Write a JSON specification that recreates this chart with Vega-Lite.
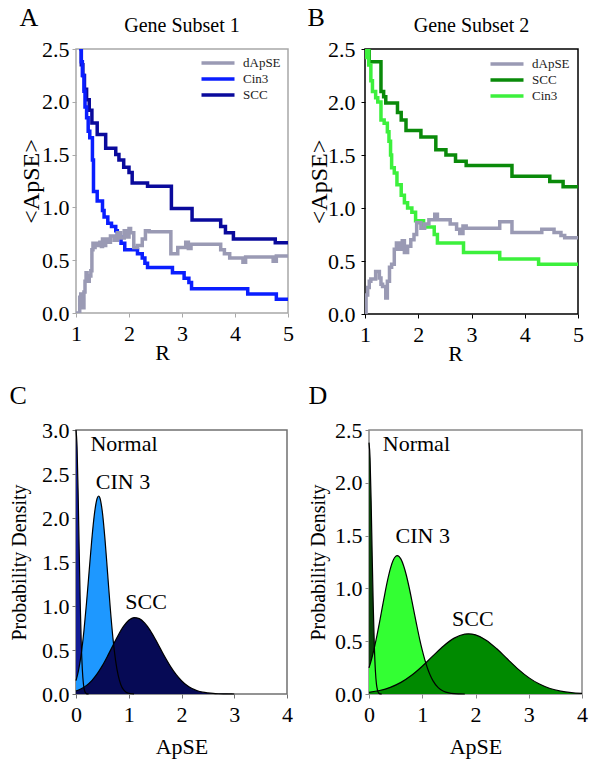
{
  "$schema": "https://vega.github.io/schema/vega-lite/v6.json",
  "background": "white",
  "padding": {"left": 8, "top": 4, "right": 4, "bottom": 4},
  "config": {
    "font": "Liberation Serif",
    "axis": {"grid": false, "labelFont": "Liberation Serif", "titleFont": "Liberation Serif", "labelColor": "#000", "titleColor": "#000", "titleFontWeight": "normal", "labelFontSize": 22, "tickSize": 4, "labelPadding": 3, "domain": false, "labelFlush": false},
    "title": {"font": "Liberation Serif", "fontWeight": "normal", "fontSize": 26, "anchor": "start", "frame": "bounds", "color": "#000"},
    "legend": {"labelFont": "Liberation Serif", "labelFontSize": 13, "labelColor": "#222"},
    "text": {"font": "Liberation Serif", "fontSize": 20, "color": "#000"}
  },
  "datasets": {
    "A": [
      {"s": "SCC", "R": 1.08, "v": 2.5}, {"s": "SCC", "R": 1.1, "v": 2.35}, {"s": "SCC", "R": 1.13, "v": 2.25}, {"s": "SCC", "R": 1.16, "v": 2.12}, {"s": "SCC", "R": 1.2, "v": 2.02}, {"s": "SCC", "R": 1.25, "v": 1.92}, {"s": "SCC", "R": 1.3, "v": 1.8}, {"s": "SCC", "R": 1.4, "v": 1.69}, {"s": "SCC", "R": 1.56, "v": 1.56}, {"s": "SCC", "R": 1.75, "v": 1.5}, {"s": "SCC", "R": 1.81, "v": 1.45}, {"s": "SCC", "R": 1.9, "v": 1.38}, {"s": "SCC", "R": 2.0, "v": 1.33}, {"s": "SCC", "R": 2.06, "v": 1.23}, {"s": "SCC", "R": 2.35, "v": 1.2}, {"s": "SCC", "R": 2.8, "v": 0.99}, {"s": "SCC", "R": 3.19, "v": 0.88}, {"s": "SCC", "R": 3.73, "v": 0.82}, {"s": "SCC", "R": 3.82, "v": 0.76}, {"s": "SCC", "R": 3.97, "v": 0.7}, {"s": "SCC", "R": 4.76, "v": 0.665}, {"s": "SCC", "R": 5.0, "v": 0.665},
      {"s": "Cin3", "R": 1.06, "v": 2.5}, {"s": "Cin3", "R": 1.1, "v": 2.38}, {"s": "Cin3", "R": 1.12, "v": 2.25}, {"s": "Cin3", "R": 1.15, "v": 2.1}, {"s": "Cin3", "R": 1.17, "v": 1.95}, {"s": "Cin3", "R": 1.2, "v": 1.85}, {"s": "Cin3", "R": 1.23, "v": 1.72}, {"s": "Cin3", "R": 1.26, "v": 1.66}, {"s": "Cin3", "R": 1.31, "v": 1.45}, {"s": "Cin3", "R": 1.33, "v": 1.15}, {"s": "Cin3", "R": 1.4, "v": 1.06}, {"s": "Cin3", "R": 1.5, "v": 0.97}, {"s": "Cin3", "R": 1.53, "v": 0.91}, {"s": "Cin3", "R": 1.6, "v": 0.85}, {"s": "Cin3", "R": 1.67, "v": 0.82}, {"s": "Cin3", "R": 1.75, "v": 0.78}, {"s": "Cin3", "R": 1.78, "v": 0.72}, {"s": "Cin3", "R": 1.85, "v": 0.66}, {"s": "Cin3", "R": 1.92, "v": 0.6}, {"s": "Cin3", "R": 2.16, "v": 0.56}, {"s": "Cin3", "R": 2.25, "v": 0.52}, {"s": "Cin3", "R": 2.3, "v": 0.47}, {"s": "Cin3", "R": 2.35, "v": 0.43}, {"s": "Cin3", "R": 2.82, "v": 0.38}, {"s": "Cin3", "R": 3.04, "v": 0.33}, {"s": "Cin3", "R": 3.13, "v": 0.29}, {"s": "Cin3", "R": 3.18, "v": 0.23}, {"s": "Cin3", "R": 4.24, "v": 0.18}, {"s": "Cin3", "R": 4.78, "v": 0.13}, {"s": "Cin3", "R": 5.0, "v": 0.13},
      {"s": "dApSE", "R": 1.0, "v": 0}, {"s": "dApSE", "R": 1.06, "v": 0}, {"s": "dApSE", "R": 1.07, "v": 0.15}, {"s": "dApSE", "R": 1.09, "v": 0.18}, {"s": "dApSE", "R": 1.1, "v": 0.08}, {"s": "dApSE", "R": 1.12, "v": 0.17}, {"s": "dApSE", "R": 1.13, "v": 0.05}, {"s": "dApSE", "R": 1.15, "v": 0.2}, {"s": "dApSE", "R": 1.17, "v": 0.3}, {"s": "dApSE", "R": 1.19, "v": 0.38}, {"s": "dApSE", "R": 1.21, "v": 0.32}, {"s": "dApSE", "R": 1.23, "v": 0.3}, {"s": "dApSE", "R": 1.25, "v": 0.35}, {"s": "dApSE", "R": 1.28, "v": 0.4}, {"s": "dApSE", "R": 1.3, "v": 0.6}, {"s": "dApSE", "R": 1.32, "v": 0.66}, {"s": "dApSE", "R": 1.34, "v": 0.62}, {"s": "dApSE", "R": 1.36, "v": 0.66}, {"s": "dApSE", "R": 1.4, "v": 0.64}, {"s": "dApSE", "R": 1.45, "v": 0.67}, {"s": "dApSE", "R": 1.48, "v": 0.63}, {"s": "dApSE", "R": 1.5, "v": 0.7}, {"s": "dApSE", "R": 1.53, "v": 0.64}, {"s": "dApSE", "R": 1.56, "v": 0.7}, {"s": "dApSE", "R": 1.62, "v": 0.67}, {"s": "dApSE", "R": 1.65, "v": 0.73}, {"s": "dApSE", "R": 1.72, "v": 0.69}, {"s": "dApSE", "R": 1.78, "v": 0.76}, {"s": "dApSE", "R": 1.84, "v": 0.71}, {"s": "dApSE", "R": 1.91, "v": 0.78}, {"s": "dApSE", "R": 1.97, "v": 0.72}, {"s": "dApSE", "R": 2.0, "v": 0.8}, {"s": "dApSE", "R": 2.03, "v": 0.76}, {"s": "dApSE", "R": 2.09, "v": 0.62}, {"s": "dApSE", "R": 2.16, "v": 0.64}, {"s": "dApSE", "R": 2.25, "v": 0.7}, {"s": "dApSE", "R": 2.31, "v": 0.78}, {"s": "dApSE", "R": 2.38, "v": 0.77}, {"s": "dApSE", "R": 2.79, "v": 0.56}, {"s": "dApSE", "R": 2.92, "v": 0.62}, {"s": "dApSE", "R": 3.07, "v": 0.67}, {"s": "dApSE", "R": 3.12, "v": 0.61}, {"s": "dApSE", "R": 3.17, "v": 0.65}, {"s": "dApSE", "R": 3.73, "v": 0.6}, {"s": "dApSE", "R": 3.8, "v": 0.56}, {"s": "dApSE", "R": 3.9, "v": 0.52}, {"s": "dApSE", "R": 4.15, "v": 0.48}, {"s": "dApSE", "R": 4.2, "v": 0.53}, {"s": "dApSE", "R": 4.72, "v": 0.49}, {"s": "dApSE", "R": 4.78, "v": 0.54}, {"s": "dApSE", "R": 5.0, "v": 0.54}
    ],
    "B": [
      {"s": "SCC", "R": 1.0, "v": 2.45}, {"s": "SCC", "R": 1.04, "v": 2.5}, {"s": "SCC", "R": 1.08, "v": 2.38}, {"s": "SCC", "R": 1.3, "v": 2.1}, {"s": "SCC", "R": 1.35, "v": 2.05}, {"s": "SCC", "R": 1.39, "v": 1.99}, {"s": "SCC", "R": 1.61, "v": 1.9}, {"s": "SCC", "R": 1.68, "v": 1.83}, {"s": "SCC", "R": 1.77, "v": 1.73}, {"s": "SCC", "R": 2.05, "v": 1.67}, {"s": "SCC", "R": 2.33, "v": 1.55}, {"s": "SCC", "R": 2.52, "v": 1.5}, {"s": "SCC", "R": 2.7, "v": 1.44}, {"s": "SCC", "R": 2.9, "v": 1.4}, {"s": "SCC", "R": 3.76, "v": 1.3}, {"s": "SCC", "R": 4.47, "v": 1.25}, {"s": "SCC", "R": 4.72, "v": 1.2}, {"s": "SCC", "R": 5.0, "v": 1.2},
      {"s": "Cin3", "R": 1.0, "v": 2.42}, {"s": "Cin3", "R": 1.02, "v": 2.5}, {"s": "Cin3", "R": 1.07, "v": 2.35}, {"s": "Cin3", "R": 1.11, "v": 2.2}, {"s": "Cin3", "R": 1.14, "v": 2.1}, {"s": "Cin3", "R": 1.2, "v": 2.04}, {"s": "Cin3", "R": 1.24, "v": 2.0}, {"s": "Cin3", "R": 1.3, "v": 1.83}, {"s": "Cin3", "R": 1.36, "v": 1.8}, {"s": "Cin3", "R": 1.42, "v": 1.72}, {"s": "Cin3", "R": 1.45, "v": 1.63}, {"s": "Cin3", "R": 1.48, "v": 1.5}, {"s": "Cin3", "R": 1.5, "v": 1.38}, {"s": "Cin3", "R": 1.55, "v": 1.33}, {"s": "Cin3", "R": 1.6, "v": 1.22}, {"s": "Cin3", "R": 1.68, "v": 1.12}, {"s": "Cin3", "R": 1.74, "v": 1.05}, {"s": "Cin3", "R": 1.8, "v": 1.0}, {"s": "Cin3", "R": 1.88, "v": 0.96}, {"s": "Cin3", "R": 1.95, "v": 0.88}, {"s": "Cin3", "R": 2.1, "v": 0.82}, {"s": "Cin3", "R": 2.3, "v": 0.75}, {"s": "Cin3", "R": 2.36, "v": 0.67}, {"s": "Cin3", "R": 2.85, "v": 0.58}, {"s": "Cin3", "R": 3.53, "v": 0.52}, {"s": "Cin3", "R": 4.26, "v": 0.47}, {"s": "Cin3", "R": 5.0, "v": 0.47},
      {"s": "dApSE", "R": 1.0, "v": 0}, {"s": "dApSE", "R": 1.02, "v": 0.18}, {"s": "dApSE", "R": 1.05, "v": 0.25}, {"s": "dApSE", "R": 1.08, "v": 0.31}, {"s": "dApSE", "R": 1.11, "v": 0.33}, {"s": "dApSE", "R": 1.2, "v": 0.4}, {"s": "dApSE", "R": 1.27, "v": 0.34}, {"s": "dApSE", "R": 1.3, "v": 0.28}, {"s": "dApSE", "R": 1.33, "v": 0.26}, {"s": "dApSE", "R": 1.39, "v": 0.15}, {"s": "dApSE", "R": 1.42, "v": 0.31}, {"s": "dApSE", "R": 1.46, "v": 0.44}, {"s": "dApSE", "R": 1.5, "v": 0.47}, {"s": "dApSE", "R": 1.55, "v": 0.61}, {"s": "dApSE", "R": 1.59, "v": 0.67}, {"s": "dApSE", "R": 1.65, "v": 0.61}, {"s": "dApSE", "R": 1.7, "v": 0.69}, {"s": "dApSE", "R": 1.74, "v": 0.58}, {"s": "dApSE", "R": 1.8, "v": 0.64}, {"s": "dApSE", "R": 1.86, "v": 0.7}, {"s": "dApSE", "R": 1.92, "v": 0.75}, {"s": "dApSE", "R": 1.97, "v": 0.86}, {"s": "dApSE", "R": 2.05, "v": 0.81}, {"s": "dApSE", "R": 2.12, "v": 0.85}, {"s": "dApSE", "R": 2.2, "v": 0.89}, {"s": "dApSE", "R": 2.31, "v": 0.94}, {"s": "dApSE", "R": 2.36, "v": 0.89}, {"s": "dApSE", "R": 2.6, "v": 0.85}, {"s": "dApSE", "R": 2.72, "v": 0.8}, {"s": "dApSE", "R": 2.78, "v": 0.76}, {"s": "dApSE", "R": 2.84, "v": 0.83}, {"s": "dApSE", "R": 2.9, "v": 0.81}, {"s": "dApSE", "R": 3.53, "v": 0.87}, {"s": "dApSE", "R": 3.76, "v": 0.77}, {"s": "dApSE", "R": 4.32, "v": 0.8}, {"s": "dApSE", "R": 4.55, "v": 0.77}, {"s": "dApSE", "R": 4.68, "v": 0.74}, {"s": "dApSE", "R": 4.75, "v": 0.72}, {"s": "dApSE", "R": 5.0, "v": 0.72}
    ],
    "C": [
      {"g": "Normal", "x": 0, "y": 3.0}, {"g": "Normal", "x": 0.02, "y": 2.81}, {"g": "Normal", "x": 0.04, "y": 2.3}, {"g": "Normal", "x": 0.06, "y": 1.65}, {"g": "Normal", "x": 0.08, "y": 1.04}, {"g": "Normal", "x": 0.1, "y": 0.57}, {"g": "Normal", "x": 0.12, "y": 0.28}, {"g": "Normal", "x": 0.14, "y": 0.12}, {"g": "Normal", "x": 0.16, "y": 0.044}, {"g": "Normal", "x": 0.18, "y": 0.014}, {"g": "Normal", "x": 0.2, "y": 0.004}, {"g": "Normal", "x": 0.22, "y": 0.001}, {"g": "Normal", "x": 0.24, "y": 0},
      {"g": "CIN 3", "x": 0, "y": 0.151}, {"g": "CIN 3", "x": 0.05, "y": 0.273}, {"g": "CIN 3", "x": 0.1, "y": 0.458}, {"g": "CIN 3", "x": 0.15, "y": 0.716}, {"g": "CIN 3", "x": 0.2, "y": 1.039}, {"g": "CIN 3", "x": 0.25, "y": 1.402}, {"g": "CIN 3", "x": 0.3, "y": 1.758}, {"g": "CIN 3", "x": 0.35, "y": 2.049}, {"g": "CIN 3", "x": 0.4, "y": 2.221}, {"g": "CIN 3", "x": 0.43, "y": 2.25}, {"g": "CIN 3", "x": 0.45, "y": 2.234}, {"g": "CIN 3", "x": 0.5, "y": 2.067}, {"g": "CIN 3", "x": 0.55, "y": 1.754}, {"g": "CIN 3", "x": 0.6, "y": 1.365}, {"g": "CIN 3", "x": 0.65, "y": 0.974}, {"g": "CIN 3", "x": 0.7, "y": 0.637}, {"g": "CIN 3", "x": 0.75, "y": 0.383}, {"g": "CIN 3", "x": 0.8, "y": 0.211}, {"g": "CIN 3", "x": 0.85, "y": 0.106}, {"g": "CIN 3", "x": 0.9, "y": 0.049}, {"g": "CIN 3", "x": 0.95, "y": 0.021}, {"g": "CIN 3", "x": 1.0, "y": 0.008}, {"g": "CIN 3", "x": 1.05, "y": 0.003}, {"g": "CIN 3", "x": 1.1, "y": 0.001},
      {"g": "SCC", "x": 0, "y": 0.034}, {"g": "SCC", "x": 0.1, "y": 0.059}, {"g": "SCC", "x": 0.2, "y": 0.098}, {"g": "SCC", "x": 0.3, "y": 0.153}, {"g": "SCC", "x": 0.4, "y": 0.228}, {"g": "SCC", "x": 0.5, "y": 0.322}, {"g": "SCC", "x": 0.6, "y": 0.433}, {"g": "SCC", "x": 0.7, "y": 0.552}, {"g": "SCC", "x": 0.8, "y": 0.668}, {"g": "SCC", "x": 0.9, "y": 0.768}, {"g": "SCC", "x": 1.0, "y": 0.838}, {"g": "SCC", "x": 1.1, "y": 0.869}, {"g": "SCC", "x": 1.2, "y": 0.857}, {"g": "SCC", "x": 1.3, "y": 0.808}, {"g": "SCC", "x": 1.4, "y": 0.729}, {"g": "SCC", "x": 1.5, "y": 0.627}, {"g": "SCC", "x": 1.6, "y": 0.516}, {"g": "SCC", "x": 1.7, "y": 0.406}, {"g": "SCC", "x": 1.8, "y": 0.305}, {"g": "SCC", "x": 1.9, "y": 0.219}, {"g": "SCC", "x": 2.0, "y": 0.151}, {"g": "SCC", "x": 2.1, "y": 0.099}, {"g": "SCC", "x": 2.2, "y": 0.062}, {"g": "SCC", "x": 2.3, "y": 0.037}, {"g": "SCC", "x": 2.4, "y": 0.021}, {"g": "SCC", "x": 2.5, "y": 0.012}, {"g": "SCC", "x": 2.6, "y": 0.006}, {"g": "SCC", "x": 2.7, "y": 0.003}, {"g": "SCC", "x": 2.8, "y": 0.0015}, {"g": "SCC", "x": 2.9, "y": 0.0007}, {"g": "SCC", "x": 3.0, "y": 0}
    ],
    "D": [
      {"g": "Normal", "x": 0, "y": 2.38}, {"g": "Normal", "x": 0.02, "y": 2.23}, {"g": "Normal", "x": 0.04, "y": 1.83}, {"g": "Normal", "x": 0.06, "y": 1.31}, {"g": "Normal", "x": 0.08, "y": 0.83}, {"g": "Normal", "x": 0.1, "y": 0.46}, {"g": "Normal", "x": 0.12, "y": 0.22}, {"g": "Normal", "x": 0.14, "y": 0.093}, {"g": "Normal", "x": 0.16, "y": 0.035}, {"g": "Normal", "x": 0.18, "y": 0.011}, {"g": "Normal", "x": 0.2, "y": 0.003}, {"g": "Normal", "x": 0.22, "y": 0.001}, {"g": "Normal", "x": 0.24, "y": 0},
      {"g": "CIN 3", "x": 0, "y": 0.247}, {"g": "CIN 3", "x": 0.05, "y": 0.333}, {"g": "CIN 3", "x": 0.1, "y": 0.437}, {"g": "CIN 3", "x": 0.15, "y": 0.555}, {"g": "CIN 3", "x": 0.2, "y": 0.686}, {"g": "CIN 3", "x": 0.25, "y": 0.822}, {"g": "CIN 3", "x": 0.3, "y": 0.956}, {"g": "CIN 3", "x": 0.35, "y": 1.08}, {"g": "CIN 3", "x": 0.4, "y": 1.185}, {"g": "CIN 3", "x": 0.45, "y": 1.261}, {"g": "CIN 3", "x": 0.5, "y": 1.303}, {"g": "CIN 3", "x": 0.53, "y": 1.31}, {"g": "CIN 3", "x": 0.6, "y": 1.277}, {"g": "CIN 3", "x": 0.65, "y": 1.215}, {"g": "CIN 3", "x": 0.7, "y": 1.127}, {"g": "CIN 3", "x": 0.75, "y": 1.018}, {"g": "CIN 3", "x": 0.8, "y": 0.897}, {"g": "CIN 3", "x": 0.85, "y": 0.769}, {"g": "CIN 3", "x": 0.9, "y": 0.643}, {"g": "CIN 3", "x": 0.95, "y": 0.523}, {"g": "CIN 3", "x": 1.0, "y": 0.415}, {"g": "CIN 3", "x": 1.05, "y": 0.321}, {"g": "CIN 3", "x": 1.1, "y": 0.242}, {"g": "CIN 3", "x": 1.15, "y": 0.177}, {"g": "CIN 3", "x": 1.2, "y": 0.127}, {"g": "CIN 3", "x": 1.3, "y": 0.06}, {"g": "CIN 3", "x": 1.4, "y": 0.026}, {"g": "CIN 3", "x": 1.5, "y": 0.01}, {"g": "CIN 3", "x": 1.6, "y": 0.003}, {"g": "CIN 3", "x": 1.7, "y": 0.001}, {"g": "CIN 3", "x": 1.8, "y": 0},
      {"g": "SCC", "x": 0, "y": 0.016}, {"g": "SCC", "x": 0.2, "y": 0.033}, {"g": "SCC", "x": 0.4, "y": 0.063}, {"g": "SCC", "x": 0.6, "y": 0.11}, {"g": "SCC", "x": 0.8, "y": 0.177}, {"g": "SCC", "x": 1.0, "y": 0.263}, {"g": "SCC", "x": 1.2, "y": 0.361}, {"g": "SCC", "x": 1.4, "y": 0.455}, {"g": "SCC", "x": 1.6, "y": 0.529}, {"g": "SCC", "x": 1.8, "y": 0.567}, {"g": "SCC", "x": 1.87, "y": 0.57}, {"g": "SCC", "x": 2.0, "y": 0.56}, {"g": "SCC", "x": 2.2, "y": 0.51}, {"g": "SCC", "x": 2.4, "y": 0.428}, {"g": "SCC", "x": 2.6, "y": 0.331}, {"g": "SCC", "x": 2.8, "y": 0.236}, {"g": "SCC", "x": 3.0, "y": 0.155}, {"g": "SCC", "x": 3.2, "y": 0.094}, {"g": "SCC", "x": 3.4, "y": 0.052}, {"g": "SCC", "x": 3.6, "y": 0.027}, {"g": "SCC", "x": 3.8, "y": 0.013}, {"g": "SCC", "x": 4.0, "y": 0.0056}
    ],
    "labC": [{"t": "Normal", "x": 0.91, "y": 2.84}, {"t": "CIN 3", "x": 0.89, "y": 2.41}, {"t": "SCC", "x": 1.33, "y": 1.05}],
    "labD": [{"t": "Normal", "x": 0.89, "y": 2.37}, {"t": "CIN 3", "x": 1.01, "y": 1.5}, {"t": "SCC", "x": 1.95, "y": 0.71}],
    "tA": [{"t": "Gene Subset 1"}],
    "tB": [{"t": "Gene Subset 2"}]
  },
  "spacing": 17,
  "align": "none",
  "center": false,
  "resolve": {"scale": {"color": "independent"}, "legend": {"color": "independent"}},
  "vconcat": [
    {
      "spacing": 11,
      "resolve": {"scale": {"color": "independent"}, "legend": {"color": "independent"}},
      "hconcat": [
        {
          "width": 212, "height": 264,
          "view": {"stroke": "#a8a8a8", "strokeWidth": 1.5},
          "title": {"text": "A", "offset": -15},
          "layer": [
            {
              "data": {"name": "A"},
              "mark": {"type": "line", "interpolate": "step-after", "strokeWidth": 3.5, "clip": true},
              "encoding": {
                "x": {"field": "R", "type": "quantitative", "scale": {"domain": [1, 5], "nice": false, "zero": false}, "axis": {"values": [1, 2, 3, 4, 5], "format": "d", "title": "R", "titleX": 86, "labelFont": "Liberation Serif", "titleFont": "Liberation Serif", "titleFontSize": 22, "titlePadding": -2, "tickColor": "#a8a8a8", "labelPadding": 6}},
                "y": {"field": "v", "type": "quantitative", "scale": {"domain": [0, 2.5], "nice": false}, "axis": {"values": [0, 0.5, 1, 1.5, 2, 2.5], "format": ".1f", "title": "<ApSE>", "labelFont": "Liberation Serif", "titleFont": "Liberation Serif", "titleFontSize": 24, "titlePadding": -2, "tickColor": "#a8a8a8"}},
                "color": {"field": "s", "type": "nominal", "scale": {"domain": ["dApSE", "Cin3", "SCC"], "range": ["#9a9ab4", "#0a1eff", "#0a0a9c"]}, "legend": {"orient": "top-right", "title": null, "symbolType": "M-3.3,0H3.3", "symbolStrokeWidth": 3.5, "symbolSize": 100, "rowPadding": 2, "offset": 7, "padding": 0, "labelOffset": 18, "labelFont": "Liberation Serif", "labelFontSize": 13}}
              }
            },
            {
              "data": {"name": "tA"},
              "mark": {"type": "text", "dy": -23, "fontSize": 20, "font": "Liberation Serif"},
              "encoding": {"x": {"datum": 3}, "y": {"datum": 2.5}, "text": {"field": "t"}}
            }
          ]
        },
        {
          "width": 213, "height": 265,
          "view": {"stroke": "#000", "strokeWidth": 1.5},
          "title": {"text": "B", "offset": -15},
          "layer": [
            {
              "data": {"name": "B"},
              "mark": {"type": "line", "interpolate": "step-after", "strokeWidth": 3.5, "clip": true},
              "encoding": {
                "x": {"field": "R", "type": "quantitative", "scale": {"domain": [1, 5], "nice": false, "zero": false}, "axis": {"values": [1, 2, 3, 4, 5], "format": "d", "title": "R", "titleX": 90, "labelFont": "Liberation Serif", "titleFont": "Liberation Serif", "titleFontSize": 22, "titlePadding": -2, "tickColor": "#000", "labelPadding": 6}},
                "y": {"field": "v", "type": "quantitative", "scale": {"domain": [0, 2.5], "nice": false}, "axis": {"values": [0, 0.5, 1, 1.5, 2, 2.5], "format": ".1f", "title": "<ApSE>", "labelFont": "Liberation Serif", "titleFont": "Liberation Serif", "titleFontSize": 24, "titlePadding": -4, "tickColor": "#000", "labelPadding": 6}},
                "color": {"field": "s", "type": "nominal", "scale": {"domain": ["dApSE", "SCC", "Cin3"], "range": ["#9a9ab4", "#0a8a0a", "#3cf03c"]}, "legend": {"orient": "top-right", "title": null, "symbolType": "M-3.3,0H3.3", "symbolStrokeWidth": 3.5, "symbolSize": 100, "rowPadding": 2, "offset": 8, "padding": 0, "labelOffset": 18, "labelFont": "Liberation Serif", "labelFontSize": 13}}
              }
            },
            {
              "data": {"name": "tB"},
              "mark": {"type": "text", "dy": -23, "fontSize": 20, "font": "Liberation Serif"},
              "encoding": {"x": {"datum": 3}, "y": {"datum": 2.5}, "text": {"field": "t"}}
            }
          ]
        }
      ]
    },
    {
      "spacing": 13,
      "hconcat": [
        {
          "width": 211, "height": 264,
          "view": {"stroke": "#707070", "strokeWidth": 1.5},
          "title": {"text": "C", "offset": 10},
          "data": {"name": "C"},
          "encoding": {
            "x": {"field": "x", "type": "quantitative", "scale": {"domain": [0, 4], "nice": false}, "axis": {"values": [0, 1, 2, 3, 4], "format": "d", "title": "ApSE", "labelFont": "Liberation Serif", "titleFont": "Liberation Serif", "titleFontSize": 22, "titlePadding": 11, "tickColor": "#707070", "labelPadding": 6}},
            "y": {"field": "y", "type": "quantitative", "scale": {"domain": [0, 3], "nice": false}, "axis": {"values": [0, 0.5, 1, 1.5, 2, 2.5, 3], "format": ".1f", "title": "Probability Density", "labelFont": "Liberation Serif", "titleFont": "Liberation Serif", "titleFontSize": 20, "titlePadding": 12, "tickColor": "#707070"}}
          },
          "layer": [
            {"transform": [{"filter": "datum.g === 'Normal'"}], "mark": {"type": "area", "interpolate": "monotone", "color": "#121c96", "opacity": 1}},
            {"transform": [{"filter": "datum.g === 'CIN 3'"}], "mark": {"type": "area", "interpolate": "monotone", "color": "#1e98ff", "opacity": 1}},
            {"transform": [{"filter": "datum.g === 'SCC'"}], "mark": {"type": "area", "interpolate": "monotone", "color": "#060a55", "opacity": 1}},
            {"mark": {"type": "line", "interpolate": "monotone", "color": "#000", "strokeWidth": 1.2}, "encoding": {"detail": {"field": "g"}}},
            {"data": {"name": "labC"}, "mark": {"type": "text", "fontSize": 22, "font": "Liberation Serif"}, "encoding": {"x": {"field": "x", "type": "quantitative"}, "y": {"field": "y", "type": "quantitative"}, "text": {"field": "t"}}}
          ]
        },
        {
          "width": 213, "height": 264,
          "view": {"stroke": "#888", "strokeWidth": 1.5},
          "title": {"text": "D", "offset": 10},
          "data": {"name": "D"},
          "encoding": {
            "x": {"field": "x", "type": "quantitative", "scale": {"domain": [0, 4], "nice": false}, "axis": {"values": [0, 1, 2, 3, 4], "format": "d", "title": "ApSE", "labelFont": "Liberation Serif", "titleFont": "Liberation Serif", "titleFontSize": 22, "titlePadding": 11, "tickColor": "#888", "labelPadding": 6}},
            "y": {"field": "y", "type": "quantitative", "scale": {"domain": [0, 2.5], "nice": false}, "axis": {"values": [0, 0.5, 1, 1.5, 2, 2.5], "format": ".1f", "title": "Probability Density", "labelFont": "Liberation Serif", "titleFont": "Liberation Serif", "titleFontSize": 20, "titlePadding": 6, "tickColor": "#888"}}
          },
          "layer": [
            {"transform": [{"filter": "datum.g === 'Normal'"}], "mark": {"type": "area", "interpolate": "monotone", "color": "#0a420a", "opacity": 1}},
            {"transform": [{"filter": "datum.g === 'CIN 3'"}], "mark": {"type": "area", "interpolate": "monotone", "color": "#33ff33", "opacity": 1}},
            {"transform": [{"filter": "datum.g === 'SCC'"}], "mark": {"type": "area", "interpolate": "monotone", "color": "#008a00", "opacity": 1}},
            {"mark": {"type": "line", "interpolate": "monotone", "color": "#000", "strokeWidth": 1.2}, "encoding": {"detail": {"field": "g"}}},
            {"data": {"name": "labD"}, "mark": {"type": "text", "fontSize": 22, "font": "Liberation Serif"}, "encoding": {"x": {"field": "x", "type": "quantitative"}, "y": {"field": "y", "type": "quantitative"}, "text": {"field": "t"}}}
          ]
        }
      ]
    }
  ]
}
